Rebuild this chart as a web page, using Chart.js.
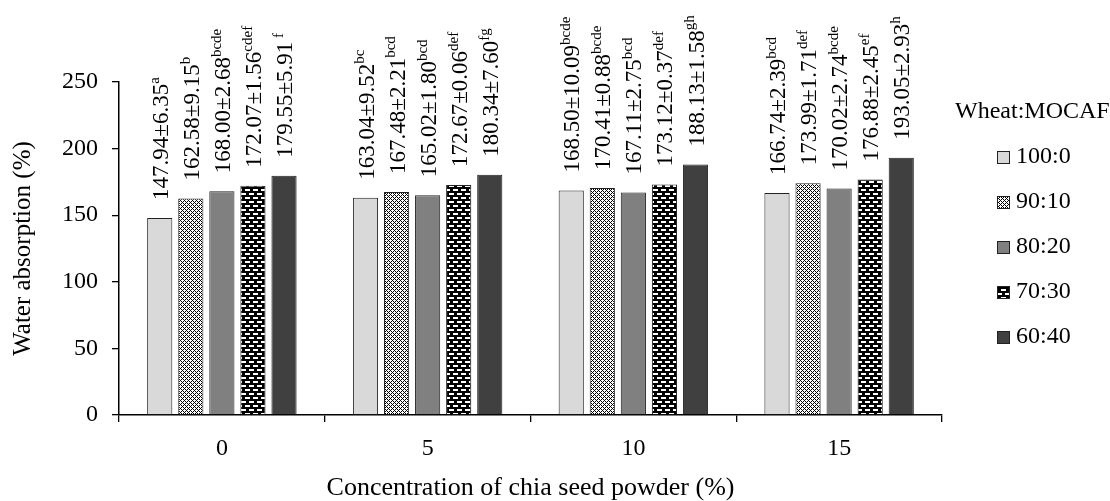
<!DOCTYPE html>
<html>
<head>
<meta charset="utf-8">
<script src="https://cdn.jsdelivr.net/npm/chart.js@4.4.1/dist/chart.umd.min.js"></script>
<style>
  html, body { margin: 0; padding: 0; background: #fff; }
  #wrap { width: 1110px; height: 501px; }
</style>
</head>
<body>
<div id="wrap"><canvas id="chartAbsorcion" width="1110" height="501"></canvas></div>
<script>
// datos
var categorias = ['0', '5', '10', '15'];
var series = ['100:0', '90:10', '80:20', '70:30', '60:40'];
var v100_0 = [147.94, 163.04, 168.50, 166.74];
var v90_10 = [162.58, 167.48, 170.41, 173.99];
var v80_20 = [168.00, 165.02, 167.11, 170.02];
var v70_30 = [172.07, 172.67, 173.12, 176.88];
var v60_40 = [179.55, 180.34, 188.13, 193.05];
var sd100_0 = [6.35, 9.52, 10.09, 2.39];
var sd90_10 = [9.15, 2.21, 0.88, 1.71];
var sd80_20 = [2.68, 1.80, 2.75, 2.74];
var sd70_30 = [1.56, 0.06, 0.37, 2.45];
var sd60_40 = [5.91, 7.60, 1.58, 2.93];
var let100_0 = ['a', 'bc', 'bcde', 'bcd'];
var let90_10 = ['b', 'bcd', 'bcde', 'def'];
var let80_20 = ['bcde', 'bcd', 'bcd', 'bcde'];
var let70_30 = ['cdef', 'def', 'def', 'ef'];
var let60_40 = [' f', 'fg', 'gh', 'h'];
var yTicks = [0, 50, 100, 150, 200, 250];

var FONT = '"Liberation Serif", "Times New Roman", serif';

// patrones
function patronPuntos(){
  var c = document.createElement('canvas');
  c.width = 4; c.height = 4;
  var g = c.getContext('2d');
  g.fillStyle = '#fff';
  g.fillRect(0, 0, 4, 4);
  g.fillStyle = '#000';
  for (var x = 0; x < 4; x++) {
    for (var y = 0; y < 4; y++) {
      if ((x + y) % 4 == 0 || (x - y + 4) % 4 == 0) g.fillRect(x, y, 1, 1);
    }
  }
  return g.createPattern(c, 'repeat');
}
function patronLadrillo(){
  var c = document.createElement('canvas');
  c.width = 8; c.height = 8;
  var g = c.getContext('2d');
  g.fillStyle = '#000';
  g.fillRect(0, 0, 8, 8);
  g.fillStyle = '#fff';
  g.fillRect(1, 1, 5, 2);
  g.fillRect(5, 5, 3, 2);
  g.fillRect(0, 5, 2, 2);
  return g.createPattern(c, 'repeat');
}

var rellenos = ['#d9d9d9', patronPuntos(), '#808080', patronLadrillo(), '#404040'];
var valores = [v100_0, v90_10, v80_20, v70_30, v60_40];
var desvios = [sd100_0, sd90_10, sd80_20, sd70_30, sd60_40];
var letras = [let100_0, let90_10, let80_20, let70_30, let60_40];

var datasets = [];
for (var i = 0; i < series.length; i++) {
  datasets.push({
    label: series[i],
    data: valores[i],
    backgroundColor: rellenos[i],
    borderColor: '#222',
    borderWidth: 1,
    borderSkipped: 'bottom',
    categoryPercentage: 0.755,
    barPercentage: 0.81
  });
}

// etiquetas verticales encima de cada barra
var etiquetasBarras = {
  id: 'etiquetasBarras',
  afterDatasetsDraw: function(chart){
    var ctx = chart.ctx;
    chart.data.datasets.forEach(function(ds, di){
      var meta = chart.getDatasetMeta(di);
      meta.data.forEach(function(bar, j){
        var txt = valores[di][j].toFixed(2) + '\u00b1' + desvios[di][j].toFixed(2);
        var sup = letras[di][j];
        ctx.save();
        ctx.translate(bar.x + 2, bar.y - 18);
        ctx.rotate(-Math.PI / 2);
        ctx.fillStyle = '#000';
        ctx.textAlign = 'left';
        ctx.textBaseline = 'middle';
        ctx.font = '23px ' + FONT;
        ctx.fillText(txt, 0, 0);
        var w = ctx.measureText(txt).width;
        ctx.font = '15px ' + FONT;
        ctx.fillText(sup, w, -7);
        ctx.restore();
      });
    });
  }
};

// leyenda a la derecha
var leyenda = {
  id: 'leyenda',
  afterDraw: function(chart){
    var ctx = chart.ctx;
    ctx.save();
    ctx.fillStyle = '#000';
    ctx.textBaseline = 'middle';
    ctx.textAlign = 'left';
    ctx.font = '24px ' + FONT;
    ctx.fillText('Wheat:MOCAF', 955, 112);
    for (var i = 0; i < series.length; i++) {
      var y = 157 + i * 45;
      ctx.fillStyle = rellenos[i];
      ctx.fillRect(997, y - 6, 13, 13);
      ctx.strokeStyle = '#222';
      ctx.lineWidth = 1;
      ctx.strokeRect(997.5, y - 5.5, 12, 12);
      ctx.fillStyle = '#000';
      ctx.fillText(series[i], 1016, y);
    }
    ctx.restore();
  }
};

var ctx = document.getElementById('chartAbsorcion').getContext('2d');
var chartAbsorcion = new Chart(ctx, {
  type: 'bar',
  data: { labels: categorias, datasets: datasets },
  options: {
    responsive: false,
    animation: false,
    layout: { padding: { top: 82, right: 168, left: 0, bottom: 0 } },
    plugins: {
      legend: { display: false },
      tooltip: { enabled: false }
    },
    scales: {
      x: {
        grid: { display: true, drawOnChartArea: false, drawTicks: true, tickLength: 7, color: '#000', lineWidth: 1.3, offset: true },
        border: { display: true, color: '#000', width: 1.5 },
        ticks: { color: '#000', font: { family: FONT, size: 24 }, padding: 12 },
        title: { display: true, text: 'Concentration of chia seed powder (%)', color: '#000', font: { family: FONT, size: 26 }, padding: { top: 6, bottom: -3 } },
        afterFit: function(scale){ scale.height = 86; }
      },
      y: {
        min: 0, max: 250,
        afterBuildTicks: function(scale){ scale.ticks = yTicks.map(function(v){ return { value: v }; }); },
        grid: { display: true, drawOnChartArea: false, drawTicks: true, tickLength: 7, color: '#000', lineWidth: 1.3 },
        border: { display: true, color: '#000', width: 1.5 },
        ticks: { color: '#000', font: { family: FONT, size: 24 }, padding: 14 },
        title: { display: true, text: 'Water absorption (%)', color: '#000', font: { family: FONT, size: 25 }, padding: { top: 8, bottom: 0 } },
        afterFit: function(scale){ scale.width = 119; }
      }
    }
  },
  plugins: [etiquetasBarras, leyenda]
});
</script>
</body>
</html>
